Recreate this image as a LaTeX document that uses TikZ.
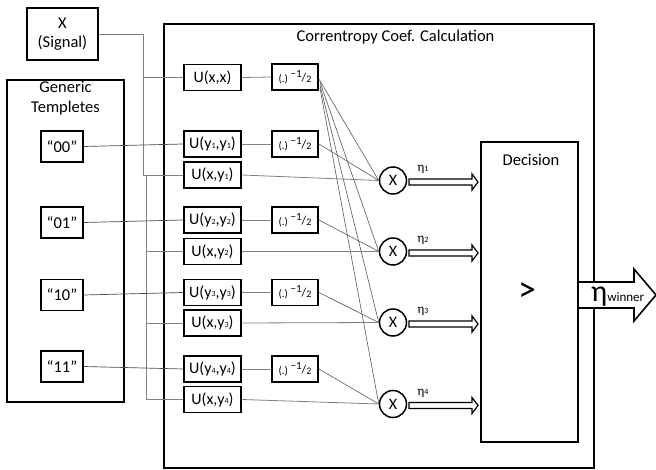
\documentclass[tikz,border=0pt]{standalone}
\usepackage{fontspec}
\setmainfont{Carlito}
\usetikzlibrary{calc}
\begin{document}
\begin{tikzpicture}[x=1pt,y=-1pt,
  box/.style={draw=black,line width=1.9pt,rectangle,inner sep=0pt,font=\fontsize{16}{16}\selectfont},
  frame/.style={draw=black,line width=2pt,rectangle,inner sep=0pt},
  ubox/.style={box,minimum width=57pt,minimum height=26pt},
  pbox/.style={box,minimum width=46pt,minimum height=26pt},
  tbox/.style={box,minimum width=42pt,minimum height=31pt,font=\fontsize{16.5}{16.5}\selectfont},
  mult/.style={draw=black,line width=1.5pt,circle,inner sep=0pt,minimum size=27pt,font=\fontsize{16}{16}\selectfont},
  gl/.style={draw=black!50,line width=0.8pt},
  dl/.style={draw=black!70,line width=0.7pt},
  fan/.style={draw=black!65,line width=0.6pt},
  dbl/.style={draw=black,line width=1.2pt},
  lbl/.style={inner sep=0pt,font=\fontsize{16.5}{16.5}\selectfont},
  eta/.style={inner sep=0pt,font=\fontsize{13}{13}\selectfont}
]
\newcommand{\pw}{{\fontsize{11}{11}\selectfont(.)}\,\raisebox{5pt}{\fontsize{11}{11}\selectfont −1}\raisebox{1pt}{\fontsize{12}{12}\selectfont/}{\fontsize{10}{10}\selectfont 2}}
\newcommand{\sub}[1]{\raisebox{0.5pt}{\fontsize{8}{8}\selectfont #1}}
\useasboundingbox (0,0) rectangle (656,470);
\fill[white] (0,0) rectangle (656,470);

% outer frames
\node[frame,minimum width=430pt,minimum height=444pt] (big) at (379,246) {};
\node[lbl] (bigt) at (395.5,37) {Correntropy Coef. Calculation};
\node[frame,minimum width=117pt,minimum height=322pt] (gen) at (65.5,241) {};
\node[lbl,align=center] (gent) at (65.5,98) {Generic\\[3pt]Templetes};

% signal
\node[box,minimum width=71pt,minimum height=52pt,align=center,font=\fontsize{16.5}{16.5}\selectfont] (sig) at (62.5,34) {X\\[2pt](Signal)};

% templates
\node[tbox] (t00) at (62,146.5) {“00”};
\node[tbox] (t01) at (62,222.5) {“01”};
\node[tbox] (t10) at (62,295) {“10”};
\node[tbox] (t11) at (62,366.5) {“11”};

% U boxes
\node[ubox] (uxx) at (212.5,77.5) {U(x,x)};
\node[ubox] (uy1) at (212.5,144) {U(y\sub{1},y\sub{1})};
\node[ubox] (uxy1) at (212.5,175) {U(x,y\sub{1})};
\node[ubox] (uy2) at (212.5,220) {U(y\sub{2},y\sub{2})};
\node[ubox] (uxy2) at (212.5,251.5) {U(x,y\sub{2})};
\node[ubox] (uy3) at (212.5,292.5) {U(y\sub{3},y\sub{3})};
\node[ubox] (uxy3) at (212.5,323) {U(x,y\sub{3})};
\node[ubox] (uy4) at (212.5,369) {U(y\sub{4},y\sub{4})};
\node[ubox] (uxy4) at (212.5,399.5) {U(x,y\sub{4})};

% power boxes
\node[pbox] (p0) at (295,77) {\pw};
\node[pbox] (p1) at (295,144) {\pw};
\node[pbox] (p2) at (295,220) {\pw};
\node[pbox] (p3) at (295,292.5) {\pw};
\node[pbox] (p4) at (295,369) {\pw};

% multipliers
\node[mult] (m1) at (393,180.5) {X};
\node[mult] (m2) at (393,251.5) {X};
\node[mult] (m3) at (393,322.5) {X};
\node[mult] (m4) at (393,404) {X};

% decision
\node[frame,minimum width=97pt,minimum height=300pt] (dec) at (529.5,292) {};
\node[lbl] (dect) at (531,160) {Decision};
\node[inner sep=0pt,font=\fontsize{36}{36}\selectfont] (gt) at (527,292) {>};

% signal bus
\coordinate (busA) at (143,0);
\coordinate (busB) at (146,0);
\draw[gl] (sig.east) -| (uxy1.west -| busA) -- (uxy1.west);
\draw[gl] (uxx.west -| busA) -- (uxx.west);
\draw[gl] (uxy1.west -| busB) -- (uxy4.west -| busB) -- (uxy4.west);
\draw[gl] (uxy2.west -| busB) -- (uxy2.west);
\draw[gl] (uxy3.west -| busB) -- (uxy3.west);

% template lines
\draw[dl] (t00.east) -- (uy1.west);
\draw[dl] (t01.east) -- (uy2.west);
\draw[dl] (t10.east) -- (uy3.west);
\draw[dl] (t11.east) -- (uy4.west);

% U -> power
\draw[gl] (uxx.east) -- (p0.west);
\draw[gl] (uy1.east) -- (p1.west);
\draw[gl] (uy2.east) -- (p2.west);
\draw[gl] (uy3.east) -- (p3.west);
\draw[gl] (uy4.east) -- (p4.west);

% fan from p0
\coordinate (f1) at ($(p0.east)+(0,2)$);
\coordinate (f2) at ($(p0.east)+(1,5)$);
\coordinate (f3) at ($(p0.east)+(1,8)$);
\coordinate (f4) at ($(p0.east)+(1,11)$);
\draw[fan] (f1) -- (m1.west);
\draw[fan] (f2) -- (m2.west);
\draw[fan] (f3) -- (m3.west);
\draw[fan] (f4) -- (m4.west);

% power -> mult
\draw[fan] (p1.east) -- (m1.west);
\draw[fan] (p2.east) -- (m2.west);
\draw[fan] (p3.east) -- (m3.west);
\draw[fan] (p4.east) -- (m4.west);

% cross -> mult
\draw[gl] (uxy1.east) -- (m1.west);
\draw[gl] (uxy2.east) -- (m2.west);
\draw[gl] (uxy3.east) -- (m3.west);
\draw[gl] (uxy4.east) -- (m4.west);

% double arrows
\foreach \i in {1,2,3,4}{
  \draw[dbl,shift={($(m\i.center)+(0,1.5)$)}] (16,-3) -- (79,-3) -- (79,-8) -- (85,0) -- (79,8) -- (79,3) -- (16,3) -- cycle;
}
\node[eta] (e1) at ($(m1.center)+(30,-11)$) {η\sub{1}};
\node[eta] (e2) at ($(m2.center)+(30,-11)$) {η\sub{2}};
\node[eta] (e3) at ($(m3.center)+(30,-11)$) {η\sub{3}};
\node[eta] (e4) at ($(m4.center)+(30,-11)$) {η\sub{4}};

% output arrow
\coordinate (oa) at (dec.east |- 0,295);
\draw[fill=white,line width=1.6pt,line join=miter] ($(oa)+(0,-13)$) -- ++(55,0) -- ++(0,-13) -- (656,295) -- ($(oa)+(55,26)$) -- ++(0,-13) -- ($(oa)+(0,13)$);
\node[inner sep=0pt,anchor=base west] (win) at ($(oa)+(12,7)$) {{\fontsize{30}{30}\selectfont η}{\fontsize{13}{13}\selectfont winner}};
\end{tikzpicture}
\end{document}
